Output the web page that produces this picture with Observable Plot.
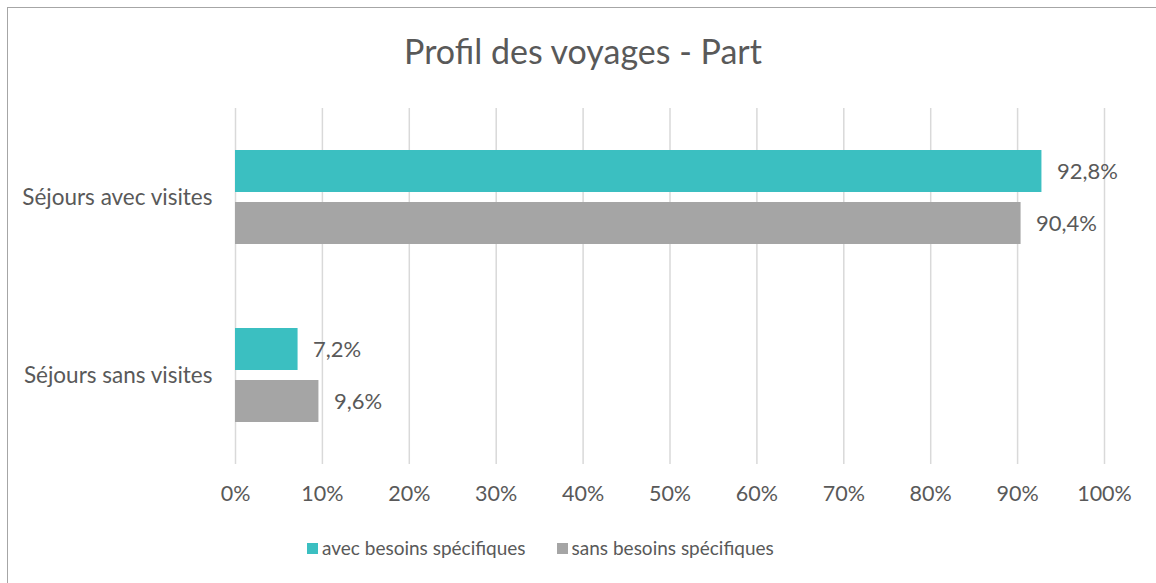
<!DOCTYPE html>
<html><head><meta charset="utf-8">
<script src="https://cdn.jsdelivr.net/npm/d3@7"></script>
<script src="https://cdn.jsdelivr.net/npm/@observablehq/plot@0.6"></script>
<style>
body{margin:0;background:#fff;font-family:Lato,Calibri,sans-serif;color:#595959}
#wrap{position:relative;width:1156px;height:583px;overflow:hidden;background:#fff}
#frame{position:absolute;left:7px;top:7px;width:1300px;height:700px;border-left:1.5px solid #a6a6a6;border-top:1.5px solid #a6a6a6;box-sizing:border-box}
#title{position:absolute;top:31px;left:0;width:1166px;text-align:center;font-size:34px;line-height:40px;color:#595959}
#chart{position:absolute;top:100px;left:0}
#legend{position:absolute;top:536px;left:307px;display:flex;gap:31px;font-size:19px;line-height:24px;color:#595959;white-space:nowrap}
#legend span.item{display:flex;align-items:center}
#legend span.sw{display:inline-block;width:11px;height:11px;margin-right:4px}
</style></head>
<body>
<div id="wrap">
  <div id="frame"></div>
  <div id="title">Profil des voyages - Part</div>
  <div id="chart"></div>
  <div id="legend"></div>
</div>
<script>
const categories = ["Séjours avec visites", "Séjours sans visites"];
const series = ["avec besoins spécifiques", "sans besoins spécifiques"];
const avecValues = [92.8, 7.2];
const sansValues = [90.4, 9.6];
const colors = ["#3BBFC1", "#A5A5A5"];
const xTicks = [0, 10, 20, 30, 40, 50, 60, 70, 80, 90, 100];

const data = [];
categories.forEach((c, i) => {
  data.push({category: c, series: series[0], value: avecValues[i]});
  data.push({category: c, series: series[1], value: sansValues[i]});
});

const fmt = v => v.toFixed(1).replace(".", ",") + "%";

const chart = Plot.plot({
  width: 1156,
  height: 410,
  marginLeft: 235,
  marginRight: 52,
  marginTop: 8,
  marginBottom: 46,
  style: {fontFamily: "Lato, Calibri, sans-serif", fontSize: "21.5px", color: "#595959", background: "transparent"},
  x: {domain: [0, 100], ticks: xTicks, tickFormat: d => d + "%", label: null, tickSize: 0, tickPadding: 21},
  fy: {domain: categories, padding: 0, label: null, axis: null},
  y: {domain: series, axis: null, paddingInner: 0.1887, paddingOuter: 0.774},
  color: {domain: series, range: colors},
  marks: [
    Plot.gridX(xTicks, {stroke: "#d9d9d9", strokeOpacity: 1, strokeWidth: 1.5}),
    Plot.axisFy({anchor: "left", tickSize: 0, tickPadding: 23, label: null, fontSize: 22.5}),
    Plot.barX(data, {x: "value", y: "series", fy: "category", fill: "series"}),
    Plot.text(data, {x: "value", y: "series", fy: "category", text: d => fmt(d.value), dx: 15, textAnchor: "start", fill: "#595959", fontSize: 22})
  ]
});
document.getElementById("chart").appendChild(chart);

const legend = document.getElementById("legend");
series.forEach((s, i) => {
  const item = document.createElement("span");
  item.className = "item";
  const sw = document.createElement("span");
  sw.className = "sw";
  sw.style.background = colors[i];
  item.appendChild(sw);
  item.appendChild(document.createTextNode(s));
  legend.appendChild(item);
});
</script>
</body></html>
